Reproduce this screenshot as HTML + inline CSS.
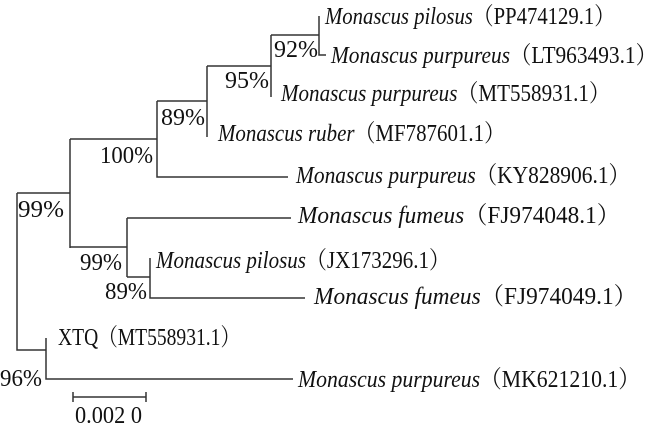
<!DOCTYPE html>
<html><head><meta charset="utf-8"><style>
html,body{margin:0;padding:0;background:#fff;}
svg{display:block;}
text{font-family:"Liberation Serif","Times New Roman","Noto Serif CJK SC",serif;font-size:24px;fill:#111;}
.i{font-style:italic;}
</style></head><body>
<svg width="669" height="431" viewBox="0 0 669 431" xmlns="http://www.w3.org/2000/svg">
<g stroke="#333" stroke-width="1.5" fill="none">
<path d="M319 16V55H326"/>
<path d="M271 35H319M271 35V97"/>
<path d="M207 66H271M207 66V137"/>
<path d="M157 101H207M157 101V177H288"/>
<path d="M70 139H157M70 139V248"/>
<path d="M17 193H70M17 193V350H46"/>
<path d="M70 247H127M127 218V277M127 218H291"/>
<path d="M127 277H150M150 258V298H305"/>
<path d="M46 338V379H293"/>
<path d="M73 397H146M73 392V402M146 392V402"/>
</g>
<text x="325" y="24" textLength="290" lengthAdjust="spacingAndGlyphs"><tspan class="i">Monascus pilosus</tspan>（PP474129.1）</text>
<text x="331" y="63" textLength="326" lengthAdjust="spacingAndGlyphs"><tspan class="i">Monascus purpureus</tspan>（LT963493.1）</text>
<text x="281" y="101" textLength="329" lengthAdjust="spacingAndGlyphs"><tspan class="i">Monascus purpureus</tspan>（MT558931.1）</text>
<text x="218" y="141" textLength="287" lengthAdjust="spacingAndGlyphs"><tspan class="i">Monascus ruber</tspan>（MF787601.1）</text>
<text x="296" y="183" textLength="334" lengthAdjust="spacingAndGlyphs"><tspan class="i">Monascus purpureus</tspan>（KY828906.1）</text>
<text x="298" y="223" textLength="322" lengthAdjust="spacingAndGlyphs"><tspan class="i">Monascus fumeus</tspan>（FJ974048.1）</text>
<text x="156" y="268" textLength="294" lengthAdjust="spacingAndGlyphs"><tspan class="i">Monascus pilosus</tspan>（JX173296.1）</text>
<text x="314" y="304" textLength="323" lengthAdjust="spacingAndGlyphs"><tspan class="i">Monascus fumeus</tspan>（FJ974049.1）</text>
<text x="58" y="345" textLength="182" lengthAdjust="spacingAndGlyphs">XTQ（MT558931.1）</text>
<text x="298" y="387" textLength="342" lengthAdjust="spacingAndGlyphs"><tspan class="i">Monascus purpureus</tspan>（MK621210.1）</text>
<text x="274" y="57" textLength="44" lengthAdjust="spacingAndGlyphs">92%</text>
<text x="225" y="88" textLength="44" lengthAdjust="spacingAndGlyphs">95%</text>
<text x="161" y="125" textLength="44" lengthAdjust="spacingAndGlyphs">89%</text>
<text x="100" y="163" textLength="53" lengthAdjust="spacingAndGlyphs">100%</text>
<text x="18" y="217" textLength="46" lengthAdjust="spacingAndGlyphs">99%</text>
<text x="80" y="270" textLength="42" lengthAdjust="spacingAndGlyphs">99%</text>
<text x="105" y="299" textLength="42" lengthAdjust="spacingAndGlyphs">89%</text>
<text x="0" y="386" textLength="42" lengthAdjust="spacingAndGlyphs">96%</text>
<text x="75" y="423" textLength="67" lengthAdjust="spacingAndGlyphs">0.002 0</text>
</svg>
</body></html>
